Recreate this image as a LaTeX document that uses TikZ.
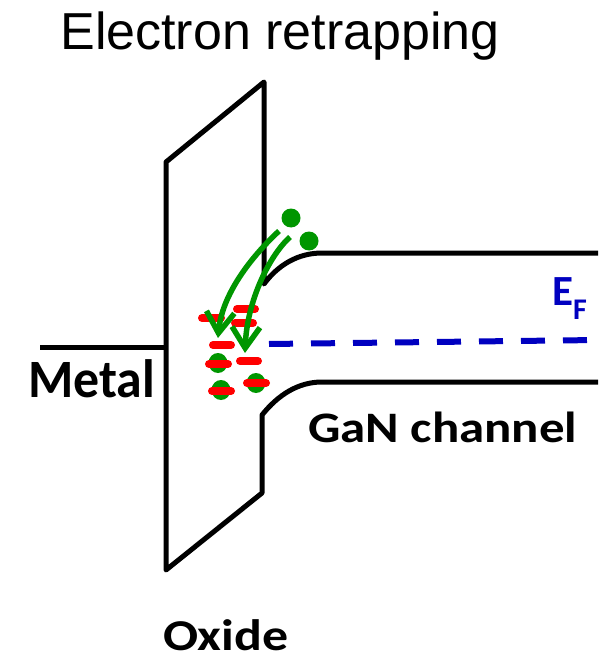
\documentclass[tikz,border=0pt]{standalone}
\usepackage{fontspec}
\setmainfont{Liberation Sans}
\newfontfamily\calib{Carlito}
\usetikzlibrary{arrows.meta}
\definecolor{egreen}{RGB}{0,150,0}
\definecolor{efblue}{RGB}{0,0,192}
\tikzset{
  band/.style={line width=5pt, line join=round, black},
  trap/.style={line width=8pt, line cap=round, red},
  elec/.style={fill=egreen, draw=none},
  hop/.style={line width=5.5pt, egreen, -{Straight Barb[length=21pt,width=28pt,line width=5.5pt]}},
  fermi/.style={line width=6pt, efblue, dash pattern=on 24pt off 18pt},
  lbl/.style={inner sep=0pt, anchor=base west, font=\calib\bfseries},
}
\begin{document}
\begin{tikzpicture}[x=1pt,y=-1pt]
\useasboundingbox (0,0) rectangle (598,660);
% coordinates
\coordinate (ml) at (40,347);
\coordinate (mr) at (166,347);
\coordinate (efl) at (269,344);
\coordinate (efr) at (598,340);
% oxide and bands
\draw[band] (598,253) -- (322,253) .. controls (298,253) and (278,265) .. (264,284)
  -- (264,82) -- (166,162) -- (166,570) -- (262,493) -- (262,415)
  .. controls (278,395) and (298,382) .. (322,382) -- (598,382);
\draw[band] (ml) -- (mr);
% Fermi level
\draw[fermi] (efl) -- (efr);
% trapped electrons
\fill[elec] (218,363) ellipse [x radius=9.5pt, y radius=10pt];
\fill[elec] (221,390) ellipse [x radius=9.5pt, y radius=10pt];
\fill[elec] (256,383) ellipse [x radius=9.5pt, y radius=10pt];
% trap levels
\draw[trap] (202,318) -- (221,318);
\draw[trap] (237,309) -- (255,309);
\draw[trap] (235,323) -- (253,323);
\draw[trap] (213,345) -- (231,345);
\draw[trap] (209,364) -- (228,364);
\draw[trap] (240,361) -- (258,361);
\draw[trap] (212,391) -- (231,391);
\draw[trap] (247,383) -- (266,383);
% free electrons
\fill[elec] (291,218) circle [radius=9.5pt];
\fill[elec] (309,241) circle [radius=9.5pt];
\coordinate (a1s) at (279,231);
\coordinate (a1e) at (218,338);
\coordinate (a2s) at (290,237);
\coordinate (a2e) at (245,353);
\draw[hop] (a1s) .. controls (250,258) and (222,295) .. (a1e);
\draw[hop] (a2s) .. controls (270,255) and (247,300) .. (a2e);
% labels
\node[inner sep=0pt, anchor=base, font=\fontsize{52}{60}\selectfont] (title) at (280,50) {Electron retrapping};
\node[lbl, font=\calib\bfseries\fontsize{54}{60}\selectfont] (metal) at (28,397) {\scalebox{0.96}[1]{Metal}};
\node[lbl, font=\calib\bfseries\fontsize{43.5}{50}\selectfont] (gan) at (308,442) {\scalebox{1.17}[1]{GaN channel}};
\node[lbl, font=\calib\bfseries\fontsize{44}{50}\selectfont] (oxide) at (163,650) {\scalebox{1.18}[1]{Oxide}};
\node[lbl, text=efblue, font=\calib\bfseries\fontsize{43}{50}\selectfont] (ef) at (552,305) {E};
\node[lbl, text=efblue, font=\calib\bfseries\fontsize{30}{36}\selectfont] (efsub) at (573,319) {F};
\end{tikzpicture}
\end{document}
